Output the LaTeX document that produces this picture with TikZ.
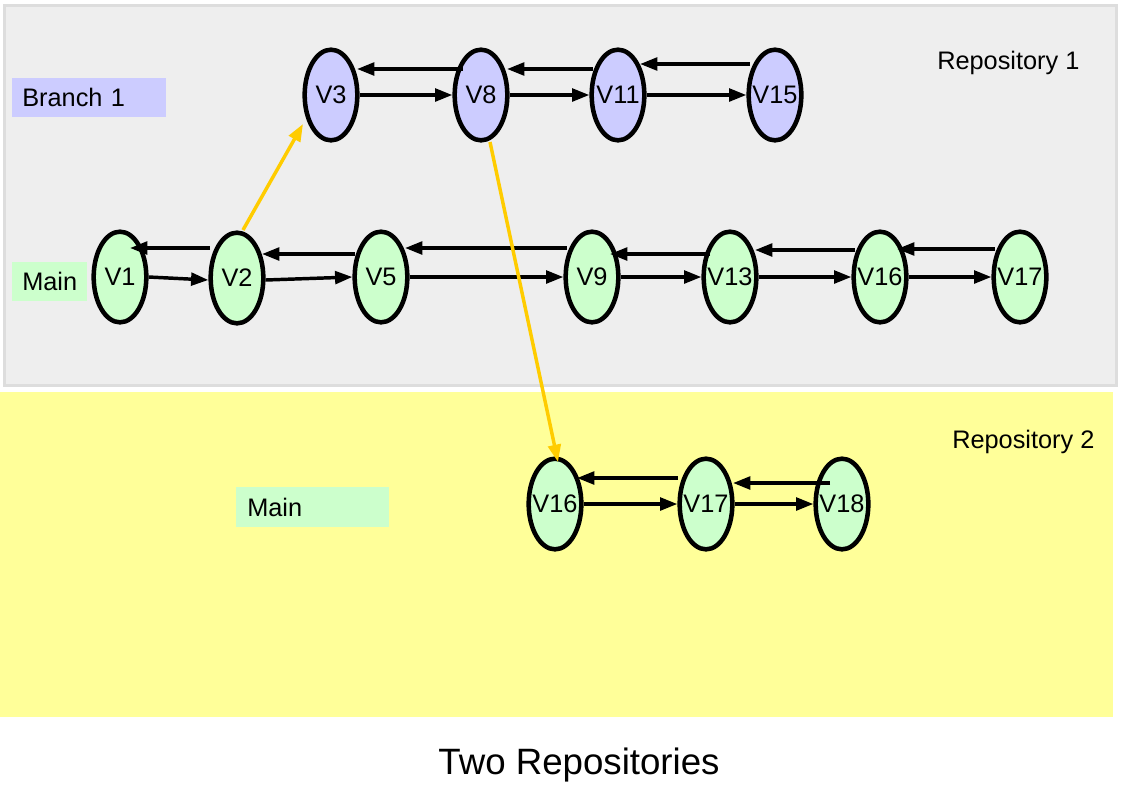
\documentclass[tikz,border=0pt]{standalone}
\usepackage{fontspec}
\setmainfont{Liberation Sans}
\usetikzlibrary{arrows.meta,calc,shapes.geometric}
\definecolor{greybg}{HTML}{EEEEEE}
\definecolor{greyedge}{HTML}{DDDDDD}
\definecolor{yellowbg}{HTML}{FFFF99}
\definecolor{branchfill}{HTML}{CCCCFF}
\definecolor{mainfill}{HTML}{CCFFCC}
\definecolor{mergecol}{HTML}{FFCC00}
\begin{document}
\begin{tikzpicture}[x=0.75pt,y=-0.75pt,
  ver/.style={ellipse, draw=black, line width=3.4pt, inner sep=0pt,
    minimum width=39.5pt, minimum height=68pt},
  bver/.style={ver, fill=branchfill},
  mver/.style={ver, fill=mainfill},
  lab/.style={font=\fontsize{19}{22}\selectfont},
  link/.style={line width=2.6pt, draw=black, -{Triangle[length=13pt,width=9.5pt]}},
  mergelink/.style={link, draw=mergecol},
  tagbox/.style={anchor=north west, inner ysep=0pt, align=left, lab},
]
\useasboundingbox (0,0) rectangle (1123,794);
% backgrounds
\path[fill=greybg, draw=greyedge, line width=2.25pt] (4,5) rectangle (1116,385);
\path[fill=yellowbg] (0,392) rectangle (1113,717);

% tags
\node[tagbox, fill=branchfill, minimum width=115.5pt, minimum height=29.25pt,
      inner xsep=7.5pt, text width=100.5pt] (tagb) at (12,78) {Branch 1};
\node[tagbox, fill=mainfill, minimum width=56.25pt, minimum height=29.25pt,
      inner xsep=7.5pt, text width=41.25pt] (tagm1) at (12,262) {Main};
\node[tagbox, fill=mainfill, minimum width=114.75pt, minimum height=30pt,
      inner xsep=8.25pt, text width=98.25pt] (tagm2) at (236,487) {Main};

\node[lab, anchor=west, inner sep=0pt] (repo1) at (937,63) {Repository 1};
\node[lab, anchor=west, inner sep=0pt] (repo2) at (952,442) {Repository 2};
\node[font=\fontsize{27.5}{33}\selectfont, inner sep=0pt] (title) at (579,765) {Two Repositories};

% branch 1 vertices
\node[bver, label={[lab]center:V3}]  (b3)  at (331,95) {};
\node[bver, label={[lab]center:V8}]  (b8)  at (481,95) {};
\node[bver, label={[lab]center:V11}] (b11) at (618,95) {};
\node[bver, label={[lab]center:V15}] (b15) at (775,95) {};

% main vertices repo 1
\node[mver, label={[lab]center:V1}]  (m1)  at (120,277) {};
\node[mver, label={[lab]center:V2}]  (m2)  at (237,278) {};
\node[mver, label={[lab]center:V5}]  (m5)  at (381,277) {};
\node[mver, label={[lab]center:V9}]  (m9)  at (592,277) {};
\node[mver, label={[lab]center:V13}] (m13) at (730,277) {};
\node[mver, label={[lab]center:V16}] (m16) at (880,277) {};
\node[mver, label={[lab]center:V17}] (m17) at (1020,277) {};

% repo 2 vertices
\node[mver, label={[lab]center:V16}] (r16) at (555,504) {};
\node[mver, label={[lab]center:V17}] (r17) at (706,504) {};
\node[mver, label={[lab]center:V18}] (r18) at (842,504) {};

% forward links
\draw[link] (b3.east) -- (b8.west);
\draw[link] (b8.east) -- (b11.west);
\draw[link] (b11.east) -- (b15.west);
\draw[link] (m1.east) -- ($(m2.west)+(0,2)$);
\draw[link] ($(m2.east)+(0,2)$) -- (m5.west);
\draw[link] (m5.east) -- (m9.west);
\draw[link] (m9.east) -- (m13.west);
\draw[link] (m13.east) -- (m16.west);
\draw[link] (m16.east) -- (m17.west);
\draw[link] (r16.east) -- (r17.west);
\draw[link] (r17.east) -- (r18.west);

% backward links
\draw[link] ($(b8.center)+(-18,-26)$) -- ($(b3.center)+(26,-26)$);
\draw[link] ($(b11.center)+(-25,-26)$) -- ($(b8.center)+(26,-26)$);
\draw[link] ($(b15.center)+(-25,-31)$) -- ($(b11.center)+(22,-31)$);
\draw[link] ($(m2.center)+(-27,-30)$) -- ($(m1.center)+(10,-29)$);
\draw[link] ($(m5.center)+(-26,-23)$) -- ($(m2.center)+(25,-24)$);
\draw[link] ($(m9.center)+(-25,-29)$) -- ($(m5.center)+(24,-29)$);
\draw[link] ($(m13.center)+(-20,-23)$) -- ($(m9.center)+(18,-23)$);
\draw[link] ($(m16.center)+(-25,-27)$) -- ($(m13.center)+(25,-27)$);
\draw[link] ($(m17.center)+(-25,-28)$) -- ($(m16.center)+(17,-28)$);
\draw[link] ($(r17.center)+(-28,-26)$) -- ($(r16.center)+(22,-26)$);
\draw[link] ($(r18.center)+(-12,-21)$) -- ($(r17.center)+(27,-21)$);

% merge links
\draw[mergelink] ($(m2.center)+(6,-48)$) -- ($(b3.center)+(-28,29)$);
\draw[mergelink] ($(b8.center)+(9,47)$) -- ($(r16.center)+(3,-42)$);
\end{tikzpicture}
\end{document}
